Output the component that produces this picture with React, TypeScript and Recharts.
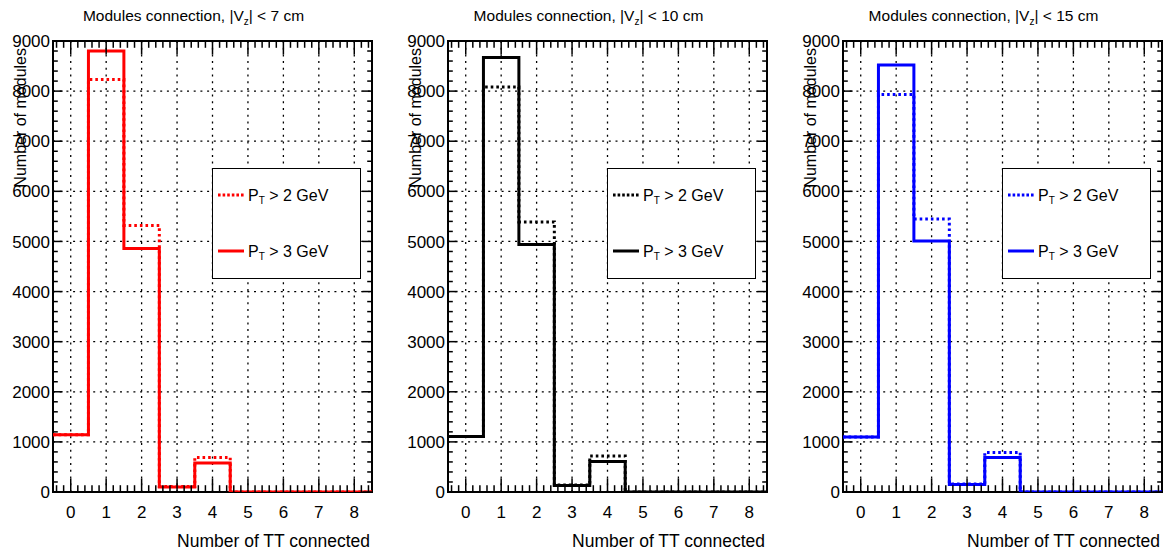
import {
  ComposedChart,
  Line,
  XAxis,
  YAxis,
  CartesianGrid,
  ReferenceArea,
  Legend,
  Label,
} from "recharts";

const FONT = '"Liberation Sans", Arial, Helvetica, sans-serif';

// number of TT connected, one bin per integer
const bins = [0, 1, 2, 3, 4, 5, 6, 7, 8];

// modules per bin, for each |Vz| cut
const pt2Vz7 = [1140, 8230, 5320, 110, 690, 0, 0, 0, 0];
const pt3Vz7 = [1140, 8800, 4860, 100, 580, 0, 0, 0, 0];
const pt2Vz10 = [1110, 8080, 5390, 140, 720, 0, 0, 0, 0];
const pt3Vz10 = [1110, 8670, 4940, 130, 610, 0, 0, 0, 0];
const pt2Vz15 = [1100, 7930, 5450, 160, 790, 0, 0, 0, 0];
const pt3Vz15 = [1100, 8520, 5010, 150, 690, 0, 0, 0, 0];

const yMajor = [1000, 2000, 3000, 4000, 5000, 6000, 7000, 8000];

// minor ticks every 0.2 on x, every 200 on y
const xTicks: number[] = [];
for (let i = -2; i <= 42; i++) xTicks.push(Math.round(i * 2) / 10);
const yTicks: number[] = [];
for (let v = 0; v <= 9000; v += 200) yTicks.push(v);

const panels = [
  { cut: "7", color: "#ff0000", pt2: pt2Vz7, pt3: pt3Vz7 },
  { cut: "10", color: "#000000", pt2: pt2Vz10, pt3: pt3Vz10 },
  { cut: "15", color: "#0000ff", pt2: pt2Vz15, pt3: pt3Vz15 },
];

// histogram edges: each bin value starts at its lower edge, last value repeated at 8.5
const toSteps = (pt2: number[], pt3: number[]) =>
  [...bins, bins.length].map((b, i) => {
    const k = Math.min(i, bins.length - 1);
    return { x: b - 0.5, pt2: pt2[k], pt3: pt3[k] };
  });

const isMajor = (v: number, step: number) => Math.abs(v / step - Math.round(v / step)) < 1e-6;

const BottomTick = (props: any) => {
  const { x, y, payload } = props;
  const v = payload.value;
  const major = isMajor(v, 1);
  return (
    <g>
      <line x1={x} x2={x} y1={y} y2={y - (major ? 13.5 : 6.8)} stroke="#000" strokeWidth={1.5} />
      {major && (
        <text x={x} y={y + 25.5} textAnchor="middle" fontSize={17} fontFamily={FONT} fill="#000">
          {v}
        </text>
      )}
    </g>
  );
};

const TopTick = (props: any) => {
  const { x, y, payload } = props;
  const major = isMajor(payload.value, 1);
  return <line x1={x} x2={x} y1={y} y2={y + (major ? 13.5 : 6.8)} stroke="#000" strokeWidth={1.5} />;
};

const LeftTick = (props: any) => {
  const { x, y, payload } = props;
  const v = payload.value;
  const major = isMajor(v, 1000);
  return (
    <g>
      <line x1={x} x2={x + (major ? 9.6 : 4.8)} y1={y} y2={y} stroke="#000" strokeWidth={1.5} />
      {major && (
        <text x={x - 3} y={y} dy="0.36em" textAnchor="end" fontSize={17} fontFamily={FONT} fill="#000">
          {v}
        </text>
      )}
    </g>
  );
};

const RightTick = (props: any) => {
  const { x, y, payload } = props;
  const major = isMajor(payload.value, 1000);
  return <line x1={x} x2={x - (major ? 9.6 : 4.8)} y1={y} y2={y} stroke="#000" strokeWidth={1.5} />;
};

const XTitle = (props: any) => {
  const { viewBox } = props;
  return (
    <text
      x={viewBox.x + viewBox.width - 2}
      y={viewBox.y + 55}
      textAnchor="end"
      fontSize={17.5}
      fontFamily={FONT}
      fill="#000"
    >
      Number of TT connected
    </text>
  );
};

const YTitle = (props: any) => {
  const { viewBox } = props;
  const x = viewBox.x + viewBox.width - 27;
  const y = viewBox.y + 7;
  return (
    <text
      x={x}
      y={y}
      transform={`rotate(-90 ${x} ${y})`}
      textAnchor="end"
      fontSize={16}
      fontFamily={FONT}
      fill="#000"
    >
      Number of modules
    </text>
  );
};

const legendRows = [
  { label: "2", dash: "2.6 2" },
  { label: "3", dash: undefined },
];

const HistLegend = ({ color }: { color: string }) => (
  <div
    style={{
      width: 149,
      height: 111,
      boxSizing: "border-box",
      border: "1px solid #000",
      background: "#fff",
    }}
  >
    <svg width={147} height={109}>
      {legendRows.map((r, i) => {
        const cy = 26 + i * 56;
        return (
          <g key={r.label}>
            <line x1={5} x2={31} y1={cy} y2={cy} stroke={color} strokeWidth={3} strokeDasharray={r.dash} />
            <text x={35} y={cy + 5.5} fontSize={16} fontFamily={FONT} fill="#000">
              P
              <tspan dy={3} fontSize={10}>
                T
              </tspan>
              <tspan dy={-3}>{` > ${r.label} GeV`}</tspan>
            </text>
          </g>
        );
      })}
    </svg>
  </div>
);

const Panel = ({ cut, color, pt2, pt3 }: (typeof panels)[number]) => {
  const rows = toSteps(pt2, pt3);
  return (
    <div style={{ position: "relative", width: 374, height: 552 }}>
      <div
        style={{
          position: "absolute",
          left: 0,
          top: 8,
          width: 387,
          textAlign: "center",
          fontFamily: FONT,
          fontSize: 15.5,
          lineHeight: "15px",
          color: "#000",
          whiteSpace: "nowrap",
        }}
      >
        Modules connection, |V
        <span style={{ fontSize: 10, position: "relative", top: 4 }}>z</span>| &lt; {cut} cm
      </div>
      <ComposedChart
        width={374}
        height={552}
        data={rows}
        margin={{ top: 40, right: 1, bottom: 59, left: 52 }}
        style={{ position: "absolute", left: 0, top: 0 }}
      >
        <CartesianGrid
          stroke="#000"
          strokeWidth={1.3}
          strokeDasharray="2 4.7"
          horizontalValues={yMajor}
          verticalValues={bins}
        />
        <ReferenceArea x1={-0.5} x2={8.5} y1={0} y2={9000} fill="none" stroke="#000" strokeWidth={2} />
        <XAxis
          dataKey="x"
          type="number"
          domain={[-0.5, 8.5]}
          allowDataOverflow
          ticks={xTicks}
          interval={0}
          height={1}
          tickSize={0}
          tickMargin={0}
          tickLine={false}
          axisLine={false}
          tick={<BottomTick />}
        >
          <Label content={<XTitle />} />
        </XAxis>
        <XAxis
          xAxisId="top"
          orientation="top"
          dataKey="x"
          type="number"
          domain={[-0.5, 8.5]}
          allowDataOverflow
          ticks={xTicks}
          interval={0}
          height={1}
          tickSize={0}
          tickMargin={0}
          tickLine={false}
          axisLine={false}
          tick={<TopTick />}
        />
        <YAxis
          type="number"
          domain={[0, 9000]}
          allowDataOverflow
          ticks={yTicks}
          interval={0}
          width={1}
          tickSize={0}
          tickMargin={0}
          tickLine={false}
          axisLine={false}
          tick={<LeftTick />}
        >
          <Label content={<YTitle />} />
        </YAxis>
        <YAxis
          yAxisId="right"
          orientation="right"
          type="number"
          domain={[0, 9000]}
          allowDataOverflow
          ticks={yTicks}
          interval={0}
          width={1}
          tickSize={0}
          tickMargin={0}
          tickLine={false}
          axisLine={false}
          tick={<RightTick />}
        />
        <Legend
          layout="vertical"
          align="center"
          verticalAlign="middle"
          content={() => <HistLegend color={color} />}
          wrapperStyle={{ position: "absolute", left: 212, top: 168, width: 149, height: 111 }}
        />
        <Line
          type="stepAfter"
          dataKey="pt3"
          name="PT > 3 GeV"
          stroke={color}
          strokeWidth={3}
          dot={false}
          activeDot={false}
          isAnimationActive={false}
        />
        <Line
          type="stepAfter"
          dataKey="pt2"
          name="PT > 2 GeV"
          xAxisId="top"
          yAxisId="right"
          stroke={color}
          strokeWidth={3}
          strokeDasharray="2.6 3"
          dot={false}
          activeDot={false}
          isAnimationActive={false}
        />
      </ComposedChart>
    </div>
  );
};

export default function App() {
  return (
    <div
      style={{
        position: "absolute",
        left: 0,
        top: 0,
        width: 1164,
        height: 552,
        background: "#fff",
        overflow: "hidden",
      }}
    >
      {panels.map((p, i) => (
        <div key={p.cut} style={{ position: "absolute", left: i * 395, top: 0 }}>
          <Panel {...p} />
        </div>
      ))}
    </div>
  );
}
